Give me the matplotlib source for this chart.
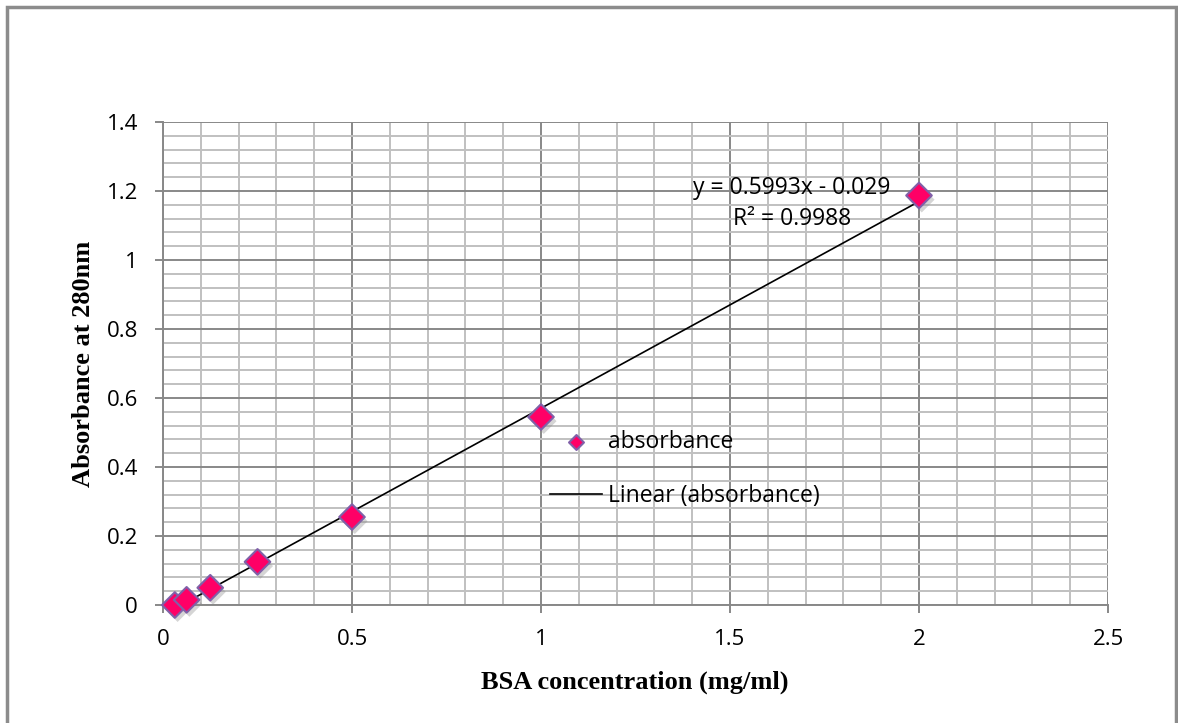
import matplotlib.pyplot as plt
import matplotlib.patheffects as pe
from matplotlib.patches import Rectangle
from matplotlib.ticker import MultipleLocator
import numpy as np

conc = [0.03125, 0.0625, 0.125, 0.25, 0.5, 1.0, 2.0]
absorbance = [0.0, 0.015, 0.05, 0.125, 0.255, 0.545, 1.187]
slope = 0.5993
intercept = -0.029
xticks = [0, 0.5, 1, 1.5, 2, 2.5]
xticklabels = ['0', '0.5', '1', '1.5', '2', '2.5']
yticks = [0, 0.2, 0.4, 0.6, 0.8, 1, 1.2, 1.4]
yticklabels = ['0', '0.2', '0.4', '0.6', '0.8', '1', '1.2', '1.4']

W, H = 1178, 723
fig = plt.figure(figsize=(W / 100, H / 100), dpi=100)
fig.patches.append(Rectangle((7 / W, -0.01), 1169 / W, 1 - 7 / H + 0.01,
                             transform=fig.transFigure, fill=False,
                             edgecolor='#8c8c8c', linewidth=2.5))
ax = fig.add_axes([163 / W, 1 - 605 / H, 945 / W, 483 / H])

ax.set_xlim(0, 2.5)
ax.set_ylim(0, 1.4)
ax.xaxis.set_minor_locator(MultipleLocator(0.1))
ax.yaxis.set_minor_locator(MultipleLocator(0.04))
ax.grid(which='minor', color='#c0c0c0', linewidth=1.4)
ax.grid(which='major', color='#888888', linewidth=1.4)
ax.set_axisbelow(True)
ax.spines['top'].set_visible(False)
ax.spines['right'].set_visible(False)
for side in ['left', 'bottom']:
    ax.spines[side].set_color('#888888')
    ax.spines[side].set_linewidth(1.4)
ax.tick_params(which='major', length=6, color='#888888', width=1.4, labelsize=16)
ax.tick_params(axis='y', pad=12)
ax.tick_params(axis='x', pad=11)
ax.tick_params(which='minor', length=0)
ax.set_xticks(xticks, xticklabels)
ax.set_yticks(yticks, yticklabels)
for lab in ax.get_xticklabels() + ax.get_yticklabels():
    lab.set_family('Open Sans')

# trend line
xs = np.array([min(conc), max(conc)])
ax.plot(xs, slope * xs + intercept, color='black', linewidth=1.2,
        label='Linear (absorbance)', zorder=3)
ax.scatter(conc, absorbance, marker='D', s=170, color='#ff0066',
           edgecolor='#8060a8', linewidth=1.5, zorder=4, label='absorbance',
           path_effects=[pe.SimplePatchShadow(offset=(2, -3), shadow_rgbFace='#888888',
                                              alpha=0.35), pe.Normal()],
           clip_on=False)

ax.text(1.664, 1.163, 'y = 0.5993x - 0.029\nR² = 0.9988', ha='center', va='center',
        fontsize=16.5, family='Open Sans', linespacing=1.38)

handles, labels = ax.get_legend_handles_labels()
leg = ax.legend(handles[::-1], labels[::-1], loc='center left',
                bbox_to_anchor=(529 / W, 1 - 469 / H), bbox_transform=fig.transFigure,
                frameon=False, labelspacing=1.3, handlelength=2.27, handletextpad=0.26,
                prop={'family': 'Open Sans', 'size': 16.5})
leg.legend_handles[0].set_sizes([58])
leg.legend_handles[0].set_path_effects([])

ax.set_xlabel('BSA concentration (mg/ml)', fontsize=19, fontweight='bold',
              family='Liberation Serif')
ax.xaxis.set_label_coords((635 - 163) / 945, (605 - 682) / 483)
ax.xaxis.label.set_va('center')
ax.set_ylabel('Absorbance at 280nm', fontsize=19, fontweight='bold',
              family='Liberation Serif')
ax.yaxis.set_label_coords((84 - 163) / 945, 0.5)
ax.yaxis.label.set_va('center')

fig.savefig('out.png', dpi=100)
